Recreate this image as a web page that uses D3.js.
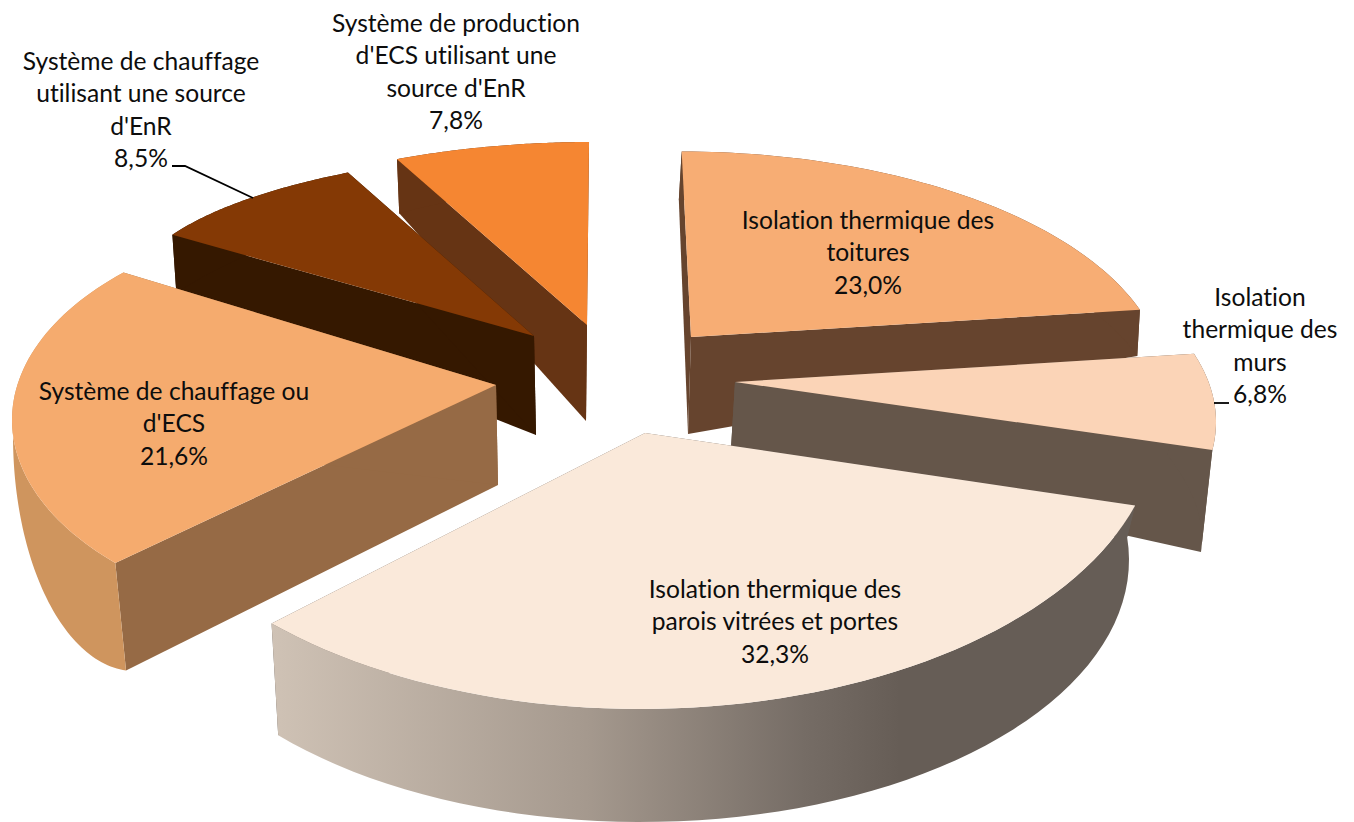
<!DOCTYPE html>
<html lang="fr"><head><meta charset="utf-8">
<style>html,body{margin:0;padding:0;background:#fff}svg{display:block}text{font-family:Lato,"Open Sans",sans-serif;fill:#0d0d0d;font-variant-ligatures:none}</style>
<script src="https://cdn.jsdelivr.net/npm/d3@7/dist/d3.min.js"></script></head><body>
<svg id="c" width="1354" height="822"></svg>
<script>
// --- data ---
const categories = ["Isolation thermique des toitures","Isolation thermique des murs","Isolation thermique des parois vitrées et portes","Système de chauffage ou d'ECS","Système de chauffage utilisant une source d'EnR","Système de production d'ECS utilisant une source d'EnR"];
const values = [23.0,6.8,32.3,21.6,8.5,7.8];
const labelLines = [["Isolation thermique des","toitures"],["Isolation","thermique des","murs"],["Isolation thermique des","parois vitrées et portes"],["Système de chauffage ou","d'ECS"],["Système de chauffage","utilisant une source","d'EnR"],["Système de production","d'ECS utilisant une","source d'EnR"]];
// --- style ---
const topColors  = ["#f7ad74","#fbd4b7","#fae9da","#f5ab6e","#843905","#f58632"];
const wallColors = ["#66442e","#65564a","#665d56","#966a45","#351800","#663414"];
const rimColors  = ["#66442e","#65564a","url(#rimGrad)","#cf955e","#351800","#663414"];
// --- per-slice projection of the exploded, tilted pie ---
const proj = [
 {ax:691,ay:337,abx:688,adrop:97, ex:680,ey:383.5,rx:485,ry:232,turn:0.2,  stretch:0.861, bx:688,by:383,brx:463,bry:183,bturn:-1.3,  bstretch:1,    bp:0.0007},
 {ax:735,ay:382,abx:731,adrop:66, ex:736,ey:422,  rx:480,ry:228,turn:-10.2,stretch:1,     bx:731,by:483,brx:455,bry:230,bturn:0.2,   bstretch:1,    bp:0.0012},
 {ax:645,ay:433,abx:645,adrop:97, ex:640,ey:421,  rx:518,ry:288,turn:-0.2, stretch:1.017, bx:641,by:560,brx:488,bry:262,bturn:-22.28,bstretch:1.23, bp:0},
 {ax:496,ay:385,abx:498,adrop:100,ex:377,ey:420,  rx:365,ry:205,turn:2.24, stretch:1.16,  bx:134.5,by:436,brx:121.5,bry:235,bturn:-39.56,bstretch:1.13,bp:0},
 {ax:534,ay:336,abx:536,adrop:99, ex:600,ey:295,  rx:470,ry:145,turn:-6.8, stretch:1.08,  bx:536,by:388,brx:445,bry:190,bturn:-1.3,  bstretch:1,    bp:0.0007},
 {ax:587,ay:325,abx:586,adrop:96, ex:592,ey:324,  rx:460,ry:182,turn:3.0,  stretch:0.88,  bx:586,by:377,brx:430,bry:188,bturn:-1.3,  bstretch:1,    bp:0.0007}
];
const labelPos = [{x:868,y:221},{x:1260,y:298},{x:775,y:590},{x:174,y:392},{x:141,y:62},{x:456,y:24}];
const lineGap = 32.4;
const leaders = [[[172,166],[185,166],[253,198]],[[1214,403],[1229,403]]];

const svg = d3.select("#c");
const grad = svg.append("defs").append("linearGradient").attr("id","rimGrad")
  .attr("gradientUnits","userSpaceOnUse").attr("x1",272).attr("x2",900).attr("y1",0).attr("y2",0);
[[0,"#cfc2b5"],[0.5,"#a5998e"],[0.85,"#756c65"],[1,"#665d56"]].forEach(([o,c])=>
  grad.append("stop").attr("offset",o).attr("stop-color",c));

const arcs = d3.pie().sort(null).value(d=>d).startAngle(0).endAngle(2*Math.PI)(values);
const rad = Math.PI/180;
const pt = (cx,cy,rx,ry,t,p)=>{const dy=-ry*Math.cos(t);return [cx+rx*Math.sin(t)*(1+p*dy),cy+dy];};
const warp = (a,s,turn,k)=>s+turn*rad+(a-s)*k;
const topPt = (g,arc,a)=>pt(g.ex,g.ey,g.rx,g.ry,warp(a,arc.startAngle,g.turn,g.stretch),0);
const basePt = (g,arc,a)=>pt(g.bx,g.by,g.brx,g.bry,warp(a,arc.startAngle,g.bturn,g.bstretch),g.bp);
const path = d3.line();
const samples = (a)=>d3.range(0,61).map(i=>a.startAngle+(a.endAngle-a.startAngle)*i/60);

const order = [5,4,3,0,1,2];
const g = svg.selectAll("g.slice").data(order).join("g").attr("class","slice");
g.each(function(i){
  const sel=d3.select(this), a=arcs[i], gm=proj[i], as=samples(a);
  const apexT=[gm.ax,gm.ay], apexB=[gm.abx,gm.ay+gm.adrop];
  const draw=(pts,fill)=>sel.append("path").attr("d",path(pts)+"Z").attr("fill",fill);
  draw([apexT,topPt(gm,a,a.startAngle),basePt(gm,a,a.startAngle),apexB],wallColors[i]);
  draw([apexT,topPt(gm,a,a.endAngle),basePt(gm,a,a.endAngle),apexB],wallColors[i]);
  draw(as.map(t=>topPt(gm,a,t)).concat(as.slice().reverse().map(t=>basePt(gm,a,t))),rimColors[i]);
  draw([apexT].concat(as.map(t=>topPt(gm,a,t))),topColors[i]);
});

svg.selectAll("path.leader").data(leaders).join("path").attr("class","leader")
  .attr("d",d=>path(d)).attr("fill","none").attr("stroke","#000").attr("stroke-width",1.8);

const pct = v=>v.toFixed(1).replace(".",",")+"%";
const lab = svg.selectAll("text.lab").data(values).join("text").attr("class","lab")
  .attr("text-anchor","middle").attr("font-size",24.6);
lab.each(function(v,i){
  const t=d3.select(this), lines=labelLines[i].concat([pct(v)]);
  t.selectAll("tspan").data(lines).join("tspan")
    .attr("x",labelPos[i].x).attr("y",(d,k)=>labelPos[i].y+8+k*lineGap).text(d=>d);
});
</script></body></html>
